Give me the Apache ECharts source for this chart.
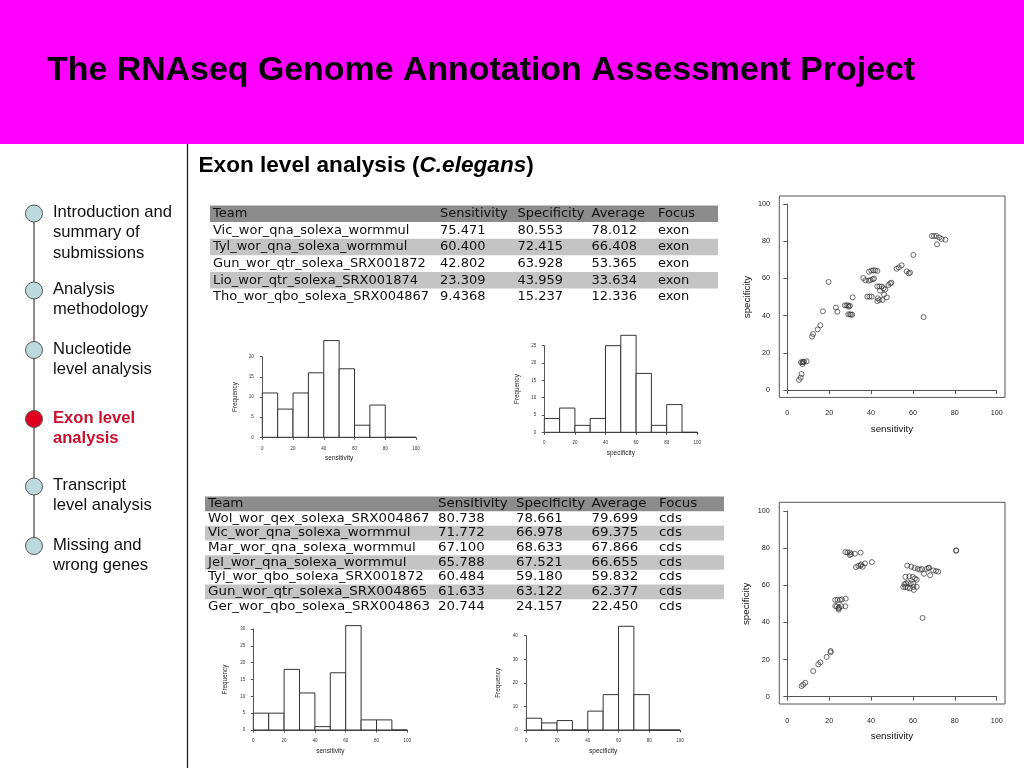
<!DOCTYPE html>
<html>
<head>
<meta charset="utf-8">
<script src="https://cdn.jsdelivr.net/npm/echarts@6/dist/echarts.min.js"></script>
<style>html,body{margin:0;padding:0;background:#fff;}#c{width:1024px;height:768px;}</style>
</head>
<body>
<div id="c"></div>
<script>
// ---------- data ----------
const slideTitle = 'The RNAseq Genome Annotation Assessment Project';
const navItems = [
  ['Introduction and', 'summary of', 'submissions'],
  ['Analysis', 'methodology'],
  ['Nucleotide', 'level analysis'],
  ['Exon level', 'analysis'],
  ['Transcript', 'level analysis'],
  ['Missing and', 'wrong genes']
];
const activeNav = 3;

const tableHeader = ['Team', 'Sensitivity', 'Specificity', 'Average', 'Focus'];
const exonTable = [
  ['Vic_wor_qna_solexa_wormmul', '75.471', '80.553', '78.012', 'exon'],
  ['Tyl_wor_qna_solexa_wormmul', '60.400', '72.415', '66.408', 'exon'],
  ['Gun_wor_qtr_solexa_SRX001872', '42.802', '63.928', '53.365', 'exon'],
  ['Lio_wor_qtr_solexa_SRX001874', '23.309', '43.959', '33.634', 'exon'],
  ['Tho_wor_qbo_solexa_SRX004867', '9.4368', '15.237', '12.336', 'exon']
];
const cdsTable = [
  ['Wol_wor_qex_solexa_SRX004867', '80.738', '78.661', '79.699', 'cds'],
  ['Vic_wor_qna_solexa_wormmul', '71.772', '66.978', '69.375', 'cds'],
  ['Mar_wor_qna_solexa_wormmul', '67.100', '68.633', '67.866', 'cds'],
  ['Jel_wor_qna_solexa_wormmul', '65.788', '67.521', '66.655', 'cds'],
  ['Tyl_wor_qbo_solexa_SRX001872', '60.484', '59.180', '59.832', 'cds'],
  ['Gun_wor_qtr_solexa_SRX004865', '61.633', '63.122', '62.377', 'cds'],
  ['Ger_wor_qbo_solexa_SRX004863', '20.744', '24.157', '22.450', 'cds']
];

const binEdges = [0, 10, 20, 30, 40, 50, 60, 70, 80, 90, 100];
const exonSensCounts = [11, 7, 11, 16, 24, 17, 3, 8, 0, 0];
const exonSpecCounts = [4, 7, 2, 4, 25, 28, 17, 2, 8, 0];
const cdsSensCounts = [5, 5, 18, 11, 1, 17, 31, 3, 3, 0];
const cdsSpecCounts = [5, 3, 4, 0, 8, 15, 44, 15, 0, 0];

const exonPoints = [
  [5.6,5.4],[6.4,6.6],[6.8,8.6],[6.5,14.9],[7.2,14.9],[7.6,15.2],[8.0,15.1],[9.2,15.4],[7.3,14.0],
  [11.8,28.7],[12.3,30.1],[14.5,32.6],[15.8,34.8],[17.0,42.3],[19.7,58.1],[23.2,44.3],[23.9,42.1],
  [27.5,45.5],[28.3,45.5],[29.1,45.5],[29.9,45.2],[29.3,44.8],[31.2,49.8],
  [29.1,40.7],[29.9,40.7],[30.4,40.5],[31.0,40.5],
  [36.3,60.2],[37.3,59.0],[38.2,50.2],[39.2,50.2],[40.3,50.2],
  [38.9,58.8],[39.8,59.1],[40.8,59.5],[41.4,59.9],
  [39.0,63.6],[40.1,64.2],[41.1,64.3],[42.0,64.3],[43.0,64.0],
  [43.0,55.7],[44.0,55.7],[45.1,55.6],[45.9,54.7],[44.3,53.4],[46.8,54.1],
  [43.2,49.3],[44.0,48.4],[45.5,48.4],[47.5,49.8],[46.2,51.3],[43.0,47.8],
  [48.3,56.5],[49.2,57.3],[49.7,57.7],
  [52.2,65.2],[53.2,65.9],[54.6,67.0],[57.0,63.8],[58.0,62.7],[58.6,63.1],
  [60.2,72.6],[65.1,39.2],
  [69.1,82.8],[70.1,82.8],[71.2,82.8],[72.6,82.0],[73.7,81.2],[75.5,80.8],[71.5,78.3]
];
const cdsPoints = [
  [6.8,5.7],[7.6,6.5],[8.6,7.5],[12.4,13.8],[14.8,17.4],[15.8,18.5],[18.8,21.4],[20.7,23.9],[20.7,24.6],
  [22.9,52.1],[24.0,52.1],[25.2,52.1],[26.1,52.4],[27.9,52.8],
  [22.9,48.8],[23.7,48.7],[24.7,48.1],[25.8,48.7],[27.7,48.7],[24.5,47.6],[24.5,46.9],
  [27.7,77.9],[28.7,77.7],[29.9,77.7],[30.4,76.8],[32.3,77.0],[35.0,77.6],[29.9,76.3],
  [32.8,69.8],[33.9,70.4],[35.0,70.6],[36.0,70.0],[37.1,71.8],[40.4,72.5],[35.2,71.2],
  [57.3,70.6],[59.2,70.0],[60.8,69.3],[62.3,68.8],[63.4,68.4],[64.2,68.8],[65.3,66.2],
  [66.6,68.9],[67.4,69.3],[67.7,69.5],[68.2,65.4],[69.7,68.0],[71.0,67.7],[72.1,67.3],
  [56.4,64.6],[58.3,64.8],[59.9,64.5],[61.0,63.7],[61.8,63.0],
  [55.9,60.5],[56.7,60.9],[57.6,61.6],[58.9,61.0],[60.2,60.7],
  [55.4,59.1],[56.4,59.1],[57.5,58.7],[58.6,58.3],[60.2,59.1],[61.8,59.2],[60.4,57.5],
  [64.6,42.4],[80.6,78.8],[80.7,78.6]
];

// ---------- layout ----------
const FONT = '"Liberation Sans", Arial, sans-serif';
const TFONT = '"DejaVu Sans", Verdana, sans-serif';
const graphics = [];

graphics.push({type:'rect', shape:{x:0, y:0, width:1024, height:144}, style:{fill:'#ff00ff'}, silent:true});
graphics.push({type:'text', x:47, y:70.5, style:{text:slideTitle, fontFamily:FONT, fontWeight:'bold', fontSize:33.9, fill:'#000', align:'left', verticalAlign:'middle'}});
graphics.push({type:'line', shape:{x1:187.5, y1:144, x2:187.5, y2:768}, style:{stroke:'#222', lineWidth:1.3}});
graphics.push({type:'text', x:198.5, y:166, style:{
  text:'{a|Exon level analysis (}{b|C.elegans}{a|)}',
  align:'left', verticalAlign:'middle',
  rich:{a:{fontFamily:FONT, fontWeight:'bold', fontSize:22.6, fill:'#000'},
        b:{fontFamily:FONT, fontWeight:'bold', fontStyle:'italic', fontSize:22.6, fill:'#000'}}
}});

// nav
const navY = [213.5, 290.5, 350, 419, 486.5, 546];
graphics.push({type:'line', shape:{x1:34, y1:navY[0], x2:34, y2:navY[navY.length-1]}, style:{stroke:'#666', lineWidth:1.5}});
navItems.forEach((lines, i) => {
  const act = i === activeNav;
  graphics.push({type:'circle', shape:{cx:34, cy:navY[i], r:8.5}, style:{fill: act ? '#e00020' : '#bcdadd', stroke:'#555', lineWidth:1}});
  lines.forEach((t, j) => {
    graphics.push({type:'text', x:53, y:navY[i] - 1 + j*20.3, style:{text:t, fontFamily:FONT, fontSize:16.6,
      fontWeight: act ? 'bold' : 'normal', fill: act ? '#c8102e' : '#111', align:'left', verticalAlign:'middle'}});
  });
});

// tables
function addTable(rows, top, rowH, left, right, colX, fs, sx) {
  const all = [tableHeader].concat(rows);
  all.forEach((r, i) => {
    const y0 = top + i*rowH;
    if (i === 0) graphics.push({type:'rect', shape:{x:left, y:y0, width:right-left, height:rowH}, style:{fill:'#8c8c8c'}});
    else if (i % 2 === 0) graphics.push({type:'rect', shape:{x:left, y:y0, width:right-left, height:rowH}, style:{fill:'#c4c4c4'}});
    r.forEach((cell, k) => {
      graphics.push({type:'text', x:colX[k], y:y0 + rowH/2, scaleX:sx, style:{text:cell, fontFamily:TFONT, fontSize:fs, fill:'#111', align:'left', verticalAlign:'middle'}});
    });
  });
}
addTable(exonTable, 205.5, 16.6, 210, 718, [213, 440, 517.5, 591.5, 658], 13, 1);
addTable(cdsTable, 496.5, 14.67, 205, 724, [208, 438, 516, 591.5, 659], 12.3, 1.09);

// ---------- charts ----------
const AX = '#555';
const grids = [
  {left:262.3, top:356.7, width:153.7, height:80.6},
  {left:544.3, top:345.7, width:153, height:86.6},
  {left:253.3, top:629, width:154, height:101},
  {left:526.3, top:635.7, width:153.7, height:94.3},
  {left:779.3, top:196, width:225.7, height:201.4, show:true, borderColor:'#555', borderWidth:1, backgroundColor:'transparent'},
  {left:787.3, top:204, width:209.4, height:186},
  {left:779.3, top:502.3, width:225.7, height:201.7, show:true, borderColor:'#555', borderWidth:1, backgroundColor:'transparent'},
  {left:787.3, top:511, width:209.4, height:185.7}
];

function histX(gi, name, off, gap) {
  return {gridIndex:gi, type:'value', min:0, max:100, interval:20, offset:off,
    axisLine:{show:true, lineStyle:{color:AX, width:1}}, axisTick:{show:true, length:2.5, lineStyle:{color:AX}},
    axisLabel:{fontSize:4.5, color:'#333', margin:3, fontFamily:FONT}, splitLine:{show:false},
    name:name, nameLocation:'middle', nameGap:gap, nameTextStyle:{fontSize:6.5, color:'#222', fontFamily:FONT}};
}
function histY(gi, max, interval, off, gap) {
  return {gridIndex:gi, type:'value', min:0, max:max, interval:interval, offset:off,
    axisLine:{show:true, lineStyle:{color:AX, width:1}}, axisTick:{show:true, length:2.5, lineStyle:{color:AX}},
    axisLabel:{fontSize:4.5, color:'#333', margin:3, fontFamily:FONT}, splitLine:{show:false},
    name:'Frequency', nameLocation:'middle', nameGap:gap, nameRotate:90, nameTextStyle:{fontSize:6.3, color:'#222', fontFamily:FONT}};
}
function scX(gi, off) {
  return {gridIndex:gi, type:'value', min:0, max:100, interval:20, offset:off,
    axisLine:{show:true, lineStyle:{color:AX, width:1}}, axisTick:{show:true, length:4, lineStyle:{color:AX}},
    axisLabel:{fontSize:7.2, color:'#222', margin:5, fontFamily:FONT}, splitLine:{show:false},
    name:'sensitivity', nameLocation:'middle', nameGap:19, nameTextStyle:{fontSize:9.8, color:'#111', fontFamily:FONT}};
}
function scY(gi, off) {
  return {gridIndex:gi, type:'value', min:0, max:100, interval:20, offset:off,
    axisLine:{show:true, lineStyle:{color:AX, width:1}}, axisTick:{show:true, length:4, lineStyle:{color:AX}},
    axisLabel:{fontSize:7.2, color:'#222', margin:5, fontFamily:FONT}, splitLine:{show:false},
    name:'specificity', nameLocation:'middle', nameGap:23, nameRotate:90, nameTextStyle:{fontSize:9.8, color:'#111', fontFamily:FONT}};
}
const hidden = gi => ({gridIndex:gi, type:'value', show:false, min:0, max:1});

const xAxes = [
  histX(0, 'sensitivity', 6, 11), histX(1, 'specificity', 5, 12),
  histX(2, 'sensitivity', 5, 13), histX(3, 'specificity', 5, 13),
  hidden(4), scX(5, 15), hidden(6), scX(7, 15.6)
];
const yAxes = [
  histY(0, 20, 5, 5.6, 18.5), histY(1, 25, 5, 5, 19.5),
  histY(2, 30, 5, 5, 20), histY(3, 40, 10, 5.6, 19),
  hidden(4), scY(5, 12.3), hidden(6), scY(7, 12.6)
];

function histData(counts) {
  return counts.map((c, i) => [binEdges[i], binEdges[i+1], c]);
}
function renderBin(params, api) {
  const p0 = api.coord([api.value(0), api.value(2)]);
  const p1 = api.coord([api.value(1), 0]);
  return {type:'rect', shape:{x:p0[0], y:p0[1], width:p1[0]-p0[0], height:p1[1]-p0[1]},
    style:{fill:'#fff', stroke:'#333', lineWidth:1}};
}
function histSeries(gi, counts) {
  return {type:'custom', xAxisIndex:gi, yAxisIndex:gi, renderItem:renderBin, clip:false,
    encode:{x:[0,1], y:2}, data:histData(counts), silent:true, animation:false};
}
function scatterSeries(gi, pts) {
  return {type:'scatter', xAxisIndex:gi, yAxisIndex:gi, data:pts, symbol:'circle', symbolSize:5,
    itemStyle:{color:'rgba(0,0,0,0)', borderColor:'#333', borderWidth:0.9}, silent:true, animation:false};
}

const chart = echarts.init(document.getElementById('c'), null, {renderer:'canvas'});
chart.setOption({
  animation:false,
  backgroundColor:'#fff',
  grid:grids,
  xAxis:xAxes,
  yAxis:yAxes,
  series:[
    histSeries(0, exonSensCounts), histSeries(1, exonSpecCounts),
    histSeries(2, cdsSensCounts), histSeries(3, cdsSpecCounts),
    scatterSeries(5, exonPoints), scatterSeries(7, cdsPoints)
  ],
  graphic:graphics
});
</script>
</body>
</html>
